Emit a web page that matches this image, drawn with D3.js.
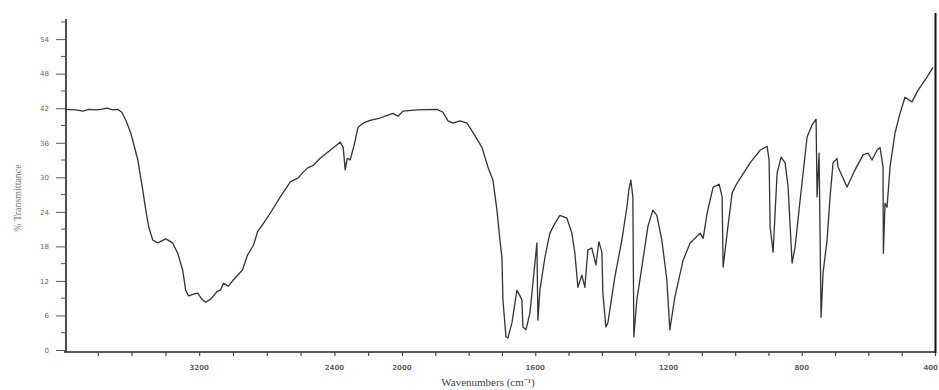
<!DOCTYPE html>
<html>
<head>
<meta charset="utf-8">
<script src="https://cdn.jsdelivr.net/npm/d3@7"></script>
<style>
  body { margin: 0; background: #fff; }
  svg { display: block; }
  .tick-label { font-family: "DejaVu Sans", sans-serif; font-size: 7px; fill: #666; }
</style>
</head>
<body>
<svg id="ir" width="939" height="390"></svg>
<script>
// spectrum (cm-1, % transmittance)
const wavenumber = [3994, 3929, 3888, 3853, 3811, 3782, 3746, 3711, 3681, 3658, 3634, 3605, 3563, 3534, 3516, 3499,
  3475, 3445, 3398, 3357, 3327, 3298, 3280, 3263, 3233, 3209, 3186, 3162, 3139, 3121, 3097, 3074, 3056, 3027, 2997,
  2944, 2914, 2879, 2855, 2820, 2779, 2720, 2661, 2614, 2584, 2560, 2525, 2484, 2425, 2366, 2348, 2336, 2324, 2307,
  2283, 2260, 2230, 2189, 2130, 2083, 2053, 2024, 1997, 1955, 1895, 1877, 1862, 1847, 1826, 1805, 1787, 1760, 1742,
  1727, 1715, 1706, 1700, 1697, 1688, 1682, 1670, 1655, 1646, 1640, 1637, 1628, 1616, 1607, 1595, 1592, 1586, 1571,
  1556, 1541, 1526, 1505, 1490, 1481, 1472, 1460, 1451, 1442, 1430, 1418, 1409, 1400, 1397, 1388, 1382, 1361, 1340,
  1325, 1319, 1313, 1307, 1304, 1295, 1280, 1262, 1247, 1235, 1220, 1205, 1196, 1181, 1156, 1135, 1105, 1096, 1084,
  1066, 1048, 1039, 1036, 1024, 1009, 994, 955, 925, 904, 898, 895, 886, 874, 862, 850, 841, 829, 820, 805, 784, 769,
  757, 754, 748, 742, 736, 724, 715, 706, 694, 691, 664, 640, 616, 601, 589, 574, 565, 556, 555, 550, 544, 535, 520,
  505, 490, 469, 451, 424, 406];
const transmittance = [41.8, 41.7, 41.5, 41.8, 41.7, 41.8, 42.0, 41.7, 41.8, 41.3, 39.9, 37.7, 33.0, 27.8, 24.3, 21.4,
  19.1, 18.6, 19.3, 18.6, 16.8, 13.9, 10.4, 9.4, 9.7, 9.9, 8.9, 8.3, 8.7, 9.2, 10.1, 10.4, 11.6, 11.1, 12.2,
  13.9, 16.5, 18.2, 20.5, 22.0, 23.8, 26.6, 29.2, 29.9, 30.9, 31.6, 32.1, 33.3, 34.7, 36.1, 35.2, 31.3, 33.3, 33.0,
  35.6, 38.7, 39.4, 39.9, 40.3, 40.8, 41.1, 40.6, 41.5, 41.7, 41.8, 41.3, 39.8, 39.4, 39.8, 39.4, 37.8, 35.2, 31.8,
  29.5, 24.3, 19.1, 16.1, 8.7, 2.3, 2.1, 4.7, 10.4, 9.4, 8.7, 4.0, 3.5, 6.4, 11.6, 18.6, 5.2, 10.4, 16.1,
  20.3, 22.0, 23.4, 22.9, 20.3, 16.8, 10.9, 13.0, 10.9, 17.4, 17.7, 14.8, 18.8, 17.0, 9.9, 4.0, 4.7, 12.7, 19.1,
  24.8, 27.8, 29.5, 26.6, 2.3, 8.7, 14.4, 21.4, 24.3, 23.4, 19.1, 12.2, 3.5, 9.2, 15.6, 18.6, 20.3, 19.4, 23.8,
  28.3, 28.8, 26.6, 14.4, 20.3, 27.3, 29.0, 32.5, 34.7, 35.4, 33.0, 21.4, 17.0, 30.7, 33.5, 32.5, 28.3, 15.1, 17.9, 26.0, 37.0, 39.1,
  40.1, 26.6, 34.2, 5.7, 13.4, 19.1, 26.6, 32.5, 33.3, 31.8, 28.3, 31.3, 33.9, 34.2, 33.0, 34.7, 35.2, 31.8, 16.8, 25.5, 24.8, 31.8, 37.7,
  41.1, 43.9, 43.1, 45.1, 47.4, 49.1];

const xLabels = [3200, 2400, 2000, 1600, 1200, 800, 400];
const xTicks = [3800, 3600, 3400, 3200, 3000, 2800, 2600, 2400, 2200, 2000,
  1900, 1800, 1700, 1600, 1500, 1400, 1300, 1200, 1100, 1000, 900, 800, 700, 600, 500, 400];
const yLabels = [0, 6, 12, 18, 24, 30, 36, 42, 48, 54];
const yMinor = [3, 9, 15, 21, 27, 33, 39, 45, 51, 57];

const svg = d3.select("#ir");

// chart paper changes scale at 2000 cm-1
const x = d3.scaleLinear().domain([4000, 2000, 400]).range([64, 402, 935]);
const y = d3.scaleLinear().domain([0, 57.5]).range([350, 19]);

// y axis
const yAxis = d3.axisLeft(y).tickValues(yLabels).tickSize(10).tickPadding(7).tickFormat(d3.format("d"));
const gy = svg.append("g").attr("transform", "translate(66,0)").call(yAxis);
gy.select(".domain").attr("stroke", "#222").attr("stroke-width", 1.6).attr("d", "M0,19V352");
gy.selectAll(".tick line").attr("stroke", "#555").attr("stroke-width", 1);
gy.selectAll(".tick text").attr("class", "tick-label");
gy.selectAll(".minor").data(yMinor).enter().append("line")
  .attr("x1", -5).attr("x2", 0)
  .attr("y1", d => y(d)).attr("y2", d => y(d))
  .attr("stroke", "#555");

// x axis
const xAxis = d3.axisBottom(x).tickValues(xTicks).tickSize(4).tickFormat("");
const gx = svg.append("g").attr("transform", "translate(0,352)").call(xAxis);
gx.select(".domain").attr("stroke", "#222").attr("stroke-width", 1.6).attr("d", "M64,0H936");
gx.selectAll(".tick line").attr("stroke", "#444").attr("stroke-width", 1.2);

svg.selectAll(".xl").data(xLabels).enter().append("text")
  .attr("class", "tick-label")
  .attr("x", d => d === 400 ? 938 : x(d)).attr("y", 370)
  .attr("text-anchor", d => d === 400 ? "end" : "middle")
  .style("font-weight", "bold")
  .text(d => d);

// right frame edge
svg.append("line")
  .attr("x1", 935.5).attr("x2", 935.5).attr("y1", 13).attr("y2", 353)
  .attr("stroke", "#111").attr("stroke-width", 2);

// titles
svg.append("text")
  .attr("transform", "translate(21,198) rotate(-90)")
  .attr("text-anchor", "middle")
  .style("font-family", "Liberation Serif, serif")
  .style("font-size", "10px")
  .style("fill", "#777")
  .text("% Transmittance");

svg.append("text")
  .attr("x", 488).attr("y", 386)
  .attr("text-anchor", "middle")
  .style("font-family", "Liberation Serif, serif")
  .style("font-size", "11px")
  .style("fill", "#444")
  .text("Wavenumbers (cm⁻¹)");

// spectrum
const line = d3.line()
  .x((d, i) => x(wavenumber[i]))
  .y(d => y(d));

svg.append("path")
  .datum(transmittance)
  .attr("fill", "none")
  .attr("stroke", "#333")
  .attr("stroke-width", 1.3)
  .attr("stroke-linejoin", "round")
  .attr("d", line);
</script>
</body>
</html>
